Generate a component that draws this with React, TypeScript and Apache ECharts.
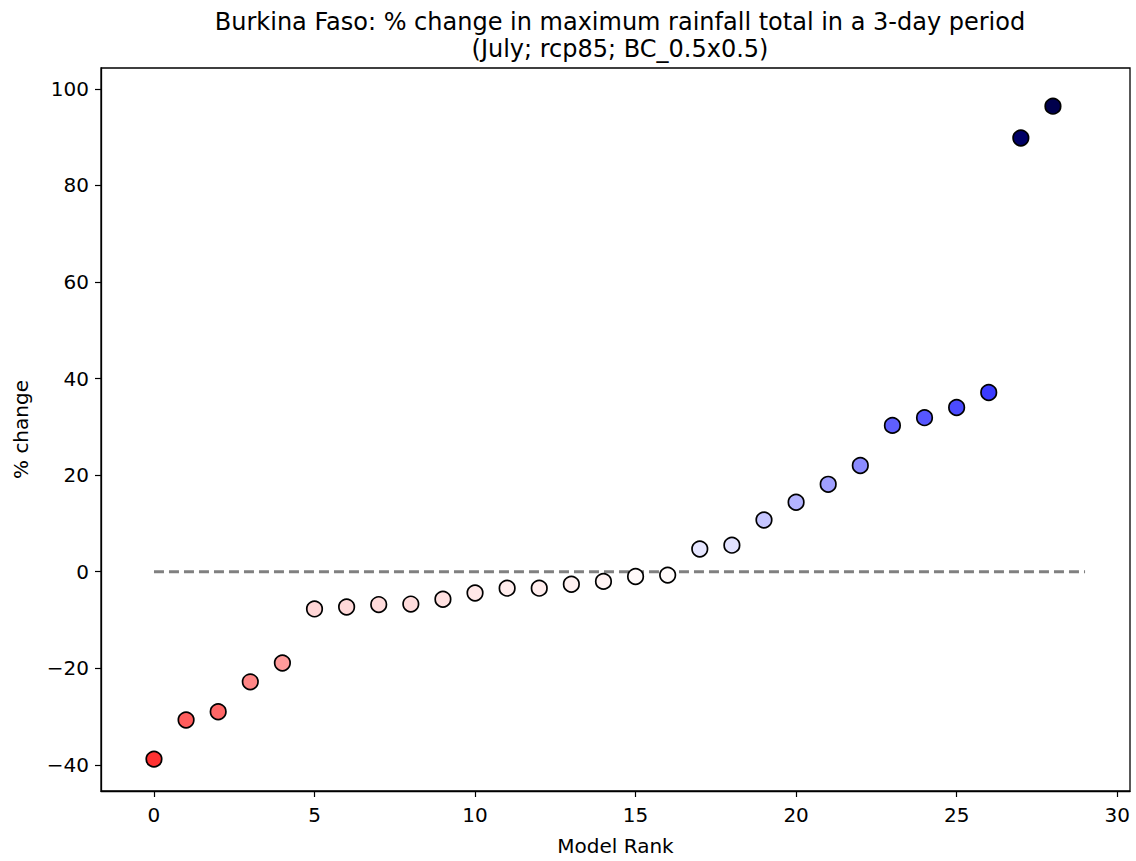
import React, { useEffect, useRef } from "react";
import * as echarts from "echarts";

const titleLines = [
  "Burkina Faso: % change in maximum rainfall total in a 3-day period",
  "(July; rcp85; BC_0.5x0.5)",
];
const ranks = [0,1,2,3,4,5,6,7,8,9,10,11,12,13,14,15,16,17,18,19,20,21,22,23,24,25,26,27,28];
const changes = [
  -38.8, -30.7, -29.0, -22.8, -18.9, -7.7, -7.3, -6.8, -6.7, -5.7, -4.4, -3.4, -3.4, -2.6, -2.0,
  -1.0, -0.7, 4.7, 5.5, 10.7, 14.4, 18.1, 22.0, 30.3, 31.9, 34.0, 37.1, 89.8, 96.4,
];
const xTicks = [0, 5, 10, 15, 20, 25, 30];
const yTicks = [-40, -20, 0, 20, 40, 60, 80, 100];
const zeroLine = [[0, 0], [29, 0]];

export default function App() {
  const ref = useRef<HTMLDivElement>(null);
  useEffect(() => {
    document.body.style.margin = "0";
    const chart = echarts.init(ref.current!, null, { renderer: "svg" });
    const vmax = Math.max(...changes.map((v) => Math.abs(v)));
    const font = "DejaVu Sans";
    chart.setOption({
      animation: false,
      backgroundColor: "#ffffff",
      title: {
        text: titleLines.join("\n"),
        left: 615,
        textAlign: "center",
        top: 3,
        textStyle: { fontFamily: font, fontSize: 24, fontWeight: "normal", color: "#000", lineHeight: 27 },
      },
      grid: {
        left: 101,
        right: 6,
        top: 68,
        bottom: 69,
        show: true,
        borderColor: "#000",
        borderWidth: 1.3,
        containLabel: false,
      },
      visualMap: {
        show: false,
        seriesIndex: 0,
        dimension: 1,
        min: -vmax,
        max: vmax,
        inRange: { color: ["#7f0000", "#ff0000", "#ffffff", "#0000ff", "#00004c"] },
      },
      xAxis: {
        type: "value",
        min: -1.65,
        max: 30.4,
        name: "Model Rank",
        nameLocation: "middle",
        nameGap: 45,
        nameTextStyle: { fontFamily: font, fontSize: 20, color: "#000" },
        axisLine: { show: true, onZero: false, lineStyle: { color: "#000", width: 1.3 } },
        axisTick: { show: true, length: 6, lineStyle: { color: "#000", width: 1.2 }, customValues: xTicks },
        axisLabel: { fontFamily: font, fontSize: 20, color: "#000", margin: 14, customValues: xTicks },
        splitLine: { show: false },
      },
      yAxis: {
        type: "value",
        min: -45.4,
        max: 104.3,
        name: "% change",
        nameLocation: "middle",
        nameGap: 70,
        nameTextStyle: { fontFamily: font, fontSize: 20, color: "#000" },
        axisLine: { show: true, onZero: false, lineStyle: { color: "#000", width: 1.3 } },
        axisTick: { show: true, length: 6, lineStyle: { color: "#000", width: 1.2 }, customValues: yTicks },
        axisLabel: {
          fontFamily: font,
          fontSize: 20,
          color: "#000",
          margin: 12,
          customValues: yTicks,
          formatter: (v: number) => (v < 0 ? "\u2212" + Math.abs(v) : String(v)),
        },
        splitLine: { show: false },
      },
      series: [
        {
          type: "scatter",
          data: ranks.map((r, i) => [r, changes[i]]),
          symbolSize: 15.5,
          itemStyle: { borderColor: "#000", borderWidth: 1.7, opacity: 1 },
          z: 3,
        },
        {
          type: "line",
          data: zeroLine,
          symbol: "none",
          lineStyle: { color: "#808080", width: 2.8, type: [10, 5] },
          z: 2,
          silent: true,
        },
      ],
    });
    return () => chart.dispose();
  }, []);
  return <div ref={ref} style={{ width: 1136, height: 861 }} />;
}
